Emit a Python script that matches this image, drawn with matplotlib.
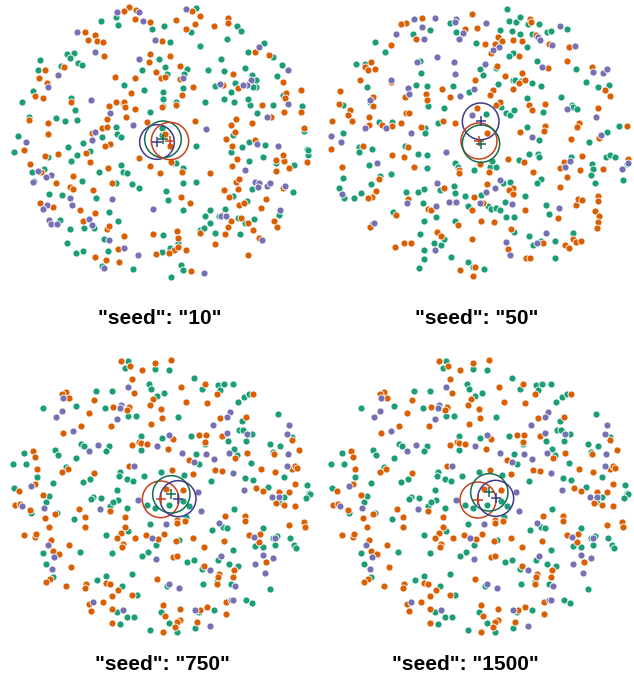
import matplotlib.pyplot as plt
from matplotlib.patches import Circle
from matplotlib import font_manager

# embedding coordinates per seed, one list of (x, y) per class
# (y grows downwards; 3 units = 1 px)
seed10_orange = [
    (388,22),(372,33),(408,30),(405,57),(450,67),(575,32),(601,47),(529,60),(585,73),(558,88),
    (642,78),(685,55),(683,70),(255,97),(284,104),(263,120),(290,123),(309,126),(487,123),(766,157),
    (807,164),(312,167),(192,200),(450,162),(510,167),(447,186),(469,217),(482,234),(494,232),(404,234),
    (344,232),(541,197),(540,238),(700,223),(714,263),(670,256),(848,246),(859,279),(855,295),(903,270),
    (902,336),(787,316),(580,260),(547,284),(527,314),(485,320),(393,278),(213,305),(144,368),(145,402),
    (106,289),(128,294),(116,234),(141,250),(136,210),(87,360),(328,318),(347,307),(371,306),(376,322),
    (406,328),(321,358),(378,352),(307,384),(322,382),(277,400),(331,433),(315,439),(441,367),(496,403),
    (510,438),(586,363),(694,376),(707,357),(704,395),(677,418),(696,438),(765,420),(813,350),(852,336),
    (913,383),(757,370),
    (73,450),(136,468),(174,463),(258,460),(270,485),(90,492),(123,516),(168,550),(220,528),(210,560),
    (220,567),(280,569),(336,548),(325,505),(418,473),(450,497),(480,518),(512,486),(545,516),(629,518),
    (542,592),(569,608),(119,610),(160,622),(239,629),(285,639),(250,664),(322,686),(328,679),(371,709),
    (285,772),(318,779),(358,785),(355,748),(458,703),(532,692),(535,714),(523,750),(507,759),(469,762),
    (534,740),(559,750),(574,814),(645,732),(599,698),(667,645),(694,664),(684,682),(676,702),(686,590),
    (672,571),(759,690),(744,669),(724,655),(783,624),(718,614),(732,610),(799,598),(715,568),(707,546),
    (718,537),(697,497),(711,476),(848,564),(821,664),(832,680),(777,714),(745,764),(829,479),(851,482),
    (829,513),(866,505),(921,485),(848,464),
]
seed10_green = [
    (588,25),(347,52),(355,75),(493,78),(456,86),(572,97),(712,78),(724,94),(303,63),(509,126),
    (601,139),(680,118),(791,130),(745,155),(818,170),(200,162),(222,160),(211,174),(121,181),(184,197),
    (233,188),(246,194),(477,178),(496,200),(425,210),(501,223),(372,255),(561,208),(552,222),(623,210),
    (664,178),(672,212),(736,205),(755,225),(767,240),(767,260),(758,260),(704,250),(645,258),(846,196),
    (832,228),(848,286),(905,318),(818,316),(750,316),(744,297),(702,305),(671,297),(693,276),(616,305),
    (550,263),(488,276),(488,297),(529,307),(488,318),(433,270),(212,293),(225,331),(232,360),(195,363),
    (169,353),(65,307),(100,273),(114,211),(86,352),(53,407),(369,310),(450,337),(347,381),(350,401),
    (364,412),(307,412),(250,428),(205,440),(487,385),(487,405),(587,437),(699,405),(726,440),(747,425),
    (796,434),(772,340),(913,394),(921,447),
    (43,455),(145,472),(230,465),(214,482),(270,453),(131,508),(97,516),(102,542),(247,542),(347,548),
    (298,516),(363,495),(368,516),(380,519),(396,553),(418,563),(518,490),(527,490),(548,503),(550,548),
    (588,545),(498,574),(505,601),(550,630),(146,582),(187,584),(288,595),(328,637),(355,664),(252,685),
    (282,685),(181,660),(209,688),(313,716),(201,730),(248,753),(228,758),(325,753),(307,798),(399,806),
    (488,706),(533,729),(510,743),(486,755),(542,795),(548,809),(512,830),(600,690),(613,685),(629,669),
    (616,648),(629,630),(656,648),(676,627),(644,698),(700,587),(720,701),(734,669),(715,653),(762,656),
    (742,604),(756,568),(694,455),(748,482),(837,646),(878,577),(788,471),(829,490),(883,495),(924,466),
    (924,450),
]
seed10_purple = [
    (418,36),(352,36),(428,62),(558,28),(230,97),(466,120),(778,141),(285,155),(418,176),(548,233),
    (754,240),(741,255),(729,256),(661,252),(865,210),(864,313),(274,300),(145,260),(174,226),(77,425),
    (331,340),(399,374),(286,397),(275,420),(618,388),(772,432),(834,437),(800,352),
    (113,513),(152,524),(137,531),(98,547),(211,595),(336,598),(215,615),(141,616),(128,627),(268,656),
    (275,675),(146,660),(152,672),(171,672),(328,719),(372,745),(313,803),(415,764),(458,627),(613,819),
    (663,648),(678,648),(735,511),(766,545),(776,548),(774,561),(802,558),(810,548),(856,558),(840,630),
    (786,721),
]

seed50_orange = [
    (455,42),(306,55),(258,68),(244,73),(287,116),(434,87),(472,85),(630,58),(633,66),(533,110),
    (547,122),(580,121),(606,123),(648,106),(494,131),(525,133),(687,131),(747,142),(214,134),(152,185),
    (136,201),(145,210),(166,208),(531,197),(512,160),(596,168),(683,205),(742,184),(815,200),(466,240),
    (556,227),(598,249),(615,240),(607,218),(520,270),(509,285),(579,268),(390,290),(366,266),(254,290),
    (319,282),(322,300),(214,245),(119,240),(60,274),(56,311),(90,331),(84,346),(95,362),(160,292),
    (160,318),(147,350),(147,375),(185,375),(215,377),(244,370),(258,338),(268,338),(304,380),(369,363),
    (406,370),(472,325),(540,306),(529,314),(628,316),(636,331),(675,313),(835,324),(854,271),(869,287),
    (778,369),(772,380),(676,377),(673,392),(601,396),(753,418),(838,414),(921,377),(33,447),(130,437),
    (263,440),(36,362),(500,400),
    (217,464),(252,472),(282,500),(66,500),(168,572),(157,590),(144,595),(177,536),(417,509),(418,520),
    (479,493),(507,516),(563,477),(612,485),(639,517),(731,486),(721,503),(786,468),(780,511),(742,532),
    (849,508),(924,477),(721,561),(263,598),(228,644),(371,564),(401,605),(461,590),(455,630),(324,627),
    (334,630),(414,675),(482,664),(522,667),(490,609),(502,551),(580,564),(567,570),(580,582),(616,630),
    (572,686),(713,654),(767,614),(773,596),(785,599),(835,588),(835,604),(824,632),(838,649),(835,667),
    (832,683),(760,717),(767,725),(783,722),(735,736),(748,744),(670,728),(563,746),(618,775),(630,775),
    (455,717),(352,695),(362,709),(252,728),(274,730),(225,741),(464,802),(420,809),(458,828),(150,682),
]
seed50_green = [
    (561,27),(331,90),(279,102),(391,70),(409,97),(567,63),(588,66),(601,52),(625,73),(657,73),
    (740,87),(540,90),(577,92),(601,103),(637,101),(680,97),(692,93),(469,128),(620,142),(166,126),
    (196,156),(109,192),(134,191),(301,182),(304,218),(480,208),(529,205),(490,226),(578,158),(567,168),
    (651,182),(767,208),(579,240),(586,240),(604,244),(637,248),(664,258),(534,253),(448,277),(398,258),
    (289,256),(320,259),(325,317),(140,262),(70,314),(150,305),(178,367),(215,365),(315,384),(316,398),
    (355,370),(371,325),(497,342),(542,322),(558,340),(571,345),(583,329),(620,293),(670,337),(723,292),
    (755,314),(759,320),(770,327),(797,245),(835,261),(866,256),(621,382),(658,421),(807,427),(862,397),
    (897,377),(68,398),(117,440),(157,447),(254,437),
    (117,456),(293,461),(322,464),(322,503),(147,495),(70,535),(57,564),(73,594),(103,593),(124,579),
    (152,553),(181,527),(214,522),(404,488),(413,502),(461,511),(510,501),(528,501),(517,482),(597,480),
    (626,461),(653,463),(658,471),(664,538),(651,548),(754,471),(815,491),(818,508),(812,524),(826,549),
    (857,472),(870,464),(886,472),(921,493),(908,540),(257,577),(293,577),(312,567),(310,608),(220,635),
    (361,570),(401,559),(405,578),(436,588),(445,617),(349,652),(311,664),(406,664),(483,586),(505,617),
    (513,628),(527,625),(541,630),(555,606),(549,550),(569,546),(616,588),(559,652),(583,652),(583,695),
    (678,614),(688,643),(759,699),(705,722),(705,775),(626,707),(638,736),(663,722),(301,701),(341,730),
    (364,736),(372,717),(313,749),(312,778),(298,804),(393,772),(445,785),(459,801),(493,806),(157,672),
]
seed50_purple = [
    (344,55),(282,58),(307,80),(311,116),(228,102),(409,58),(406,67),(428,100),(418,118),(499,68),
    (720,78),(653,111),(660,120),(537,140),(696,134),(765,137),(290,187),(352,171),(403,187),(404,221),
    (495,192),(518,151),(667,200),(818,215),(850,218),(862,206),(461,266),(420,287),(263,264),(268,282),
    (214,240),(151,300),(135,385),(197,384),(274,398),(456,346),(742,327),(829,350),(636,411),(843,405),
    (33,408),(62,425),
    (379,456),(172,488),(67,582),(750,482),(736,500),(924,488),(906,506),(260,608),(352,548),(387,607),
    (408,607),(347,617),(479,609),(499,575),(526,564),(541,540),(575,611),(717,625),(678,698),(651,728),
    (558,725),(570,765),(345,751),(163,668),
]

# seeds 750 and 1500 end up with the same embedding
seed750_orange = [
    (364,47),(391,64),(427,74),(464,55),(513,45),(397,103),(616,116),(652,146),(543,125),(402,145),
    (459,162),(199,140),(187,148),(208,158),(283,164),(340,187),(388,187),(381,196),(267,204),(451,180),
    (484,192),(486,219),(454,237),(559,171),(622,174),(760,146),(660,219),(738,216),(665,273),(876,286),
    (332,242),(242,243),(188,264),(395,300),(417,290),(424,295),(441,298),(505,311),(519,283),(598,269),
    (617,269),(615,291),(568,345),(704,338),(742,325),(823,327),(896,316),(98,319),(104,337),(203,372),
    (185,380),(110,372),(104,417),(56,437),(281,384),(386,363),(516,375),(578,388),(644,375),(665,377),
    (782,372),(825,382),(876,372),(886,362),(892,369),(884,416),(768,430),(789,438),(837,441),(868,441),
    (550,435),(128,450),(498,432),
    (44,480),(61,478),(89,495),(134,520),(165,507),(146,546),(72,570),(104,575),(109,567),(153,586),
    (159,617),(177,628),(207,599),(212,667),(150,702),(137,712),(199,722),(237,491),(256,517),(256,546),
    (329,498),(376,517),(375,546),(362,565),(351,580),(369,597),(367,605),(405,578),(437,570),(473,583),
    (492,567),(528,588),(519,636),(530,633),(578,578),(532,526),(554,528),(530,535),(674,512),(735,512),
    (736,528),(748,570),(779,567),(777,592),(868,540),(912,532),(915,545),(797,652),(611,607),(703,676),
    (612,664),(673,588),(658,686),(655,696),(652,718),(700,696),(470,702),(318,713),(330,718),(353,736),
    (258,717),(254,728),(335,754),(397,751),(310,770),(268,778),(272,799),(335,791),(337,833),(489,781),
    (494,812),(540,791),(540,825),(532,831),(524,847),(489,860),(599,794),(620,786),(590,831),(678,770),
    (679,807),(829,473),(852,481),(884,483),
]
seed750_green = [
    (385,47),(376,69),(464,72),(508,74),(581,98),(446,116),(654,119),(673,116),(700,116),(605,132),
    (659,135),(454,132),(491,143),(470,153),(289,137),(337,137),(128,190),(227,182),(315,190),(383,212),
    (408,212),(535,216),(713,172),(732,156),(746,148),(727,228),(717,256),(729,256),(755,266),(685,288),
    (738,288),(833,206),(876,276),(243,296),(251,302),(327,303),(318,319),(423,274),(424,316),(487,280),
    (573,274),(616,297),(587,327),(597,356),(711,329),(703,311),(740,325),(754,353),(811,298),(818,320),
    (840,303),(72,325),(40,358),(77,356),(166,314),(175,330),(227,338),(199,366),(112,396),(42,430),
    (158,414),(250,411),(270,401),(359,380),(356,393),(380,401),(400,409),(350,435),(432,393),(483,380),
    (551,390),(632,408),(852,396),(736,398),(759,406),(922,419),(803,427),(928,445),
    (148,453),(137,470),(94,504),(171,504),(128,623),(239,622),(139,658),(158,696),(223,522),(280,457),
    (302,460),(274,463),(331,482),(354,466),(338,471),(380,489),(383,557),(318,570),(337,625),(442,480),
    (451,536),(467,599),(443,620),(427,633),(538,586),(560,652),(582,644),(559,517),(701,491),(636,556),
    (670,546),(681,548),(790,548),(766,604),(788,607),(820,579),(830,573),(825,600),(871,580),(883,600),
    (887,609),(809,733),(698,615),(654,646),(686,657),(713,664),(605,672),(652,707),(694,717),(500,722),
    (608,718),(395,686),(318,694),(291,704),(367,722),(412,751),(351,800),(380,815),(403,817),(359,836),
    (483,802),(508,835),(532,860),(451,855),(641,796),(596,800),(585,849),(738,765),(755,775),(851,456),
    (837,470),(929,448),(918,458),(506,480),(548,468),(568,482),(466,490),
]
seed750_purple = [
    (383,125),(190,160),(364,180),(359,190),(350,222),(169,216),(187,198),(689,200),(682,215),(640,240),
    (740,266),(682,264),(866,240),(860,266),(218,258),(267,318),(294,300),(472,303),(508,271),(545,324),
    (619,327),(643,343),(581,351),(687,324),(865,327),(93,422),(402,362),(698,384),(860,364),(732,435),
    (594,440),
    (66,483),(131,488),(143,601),(161,635),(155,673),(301,493),(415,465),(499,538),(457,580),(467,643),
    (602,499),(658,535),(662,633),(630,676),(536,728),(508,717),(705,722),(790,629),(819,639),(766,657),
    (795,684),(762,575),(826,580),(817,457),(836,456),(280,770),(370,794),(586,794),(630,842),(692,765),
    (700,765),
]

# class centroids and spread radius: (x, y, r) in the same units
centers = {
    "10":   {"purple": (471, 426, 52), "green": (489, 418, 55), "orange": (510, 423, 56)},
    "50":   {"purple": (482, 364, 55), "orange": (477, 423, 54), "green": (483, 431, 56)},
    "750":  {"orange": (482, 463, 55), "green": (514, 448, 56), "purple": (534, 461, 54)},
    "1500": {"orange": (480, 465, 54), "green": (514, 442, 56), "purple": (533, 460, 54)},
}

point_col = {"green": "#1b9e77", "orange": "#d95f02", "purple": "#7570b3"}
ring_col = {"green": "#176b50", "orange": "#c8401c", "purple": "#3d3a8c"}

# narrow bold face for the captions if it is around
names = {f.name for f in font_manager.fontManager.ttflist}
cap_font = "Liberation Sans Narrow" if "Liberation Sans Narrow" in names else "Liberation Sans"
cap_size = 17 if cap_font == "Liberation Sans Narrow" else 15

W, H = 634, 683
fig = plt.figure(figsize=(W / 100, H / 100), dpi=100)

panels = [
    # seed, points, left px, top px, width px, x-shift (units)
    ("10", (seed10_green, seed10_orange, seed10_purple), 0, 0, 320, 0),
    ("50", (seed50_green, seed50_orange, seed50_purple), 320, 0, 314, 0),
    ("750", (seed750_green, seed750_orange, seed750_purple), 0, 345, 320, 0),
    ("1500", (seed750_green, seed750_orange, seed750_purple), 320, 345, 314, 6),
]
title_x = {"10": 160, "50": 477, "750": 162, "1500": 465}

for seed, pts, left, top, width, shift in panels:
    ax = fig.add_axes([left / W, 1 - (top + 290) / H, width / W, 290 / H])
    ax.set_xlim(shift, shift + width * 3)
    ax.set_ylim(870, 0)
    ax.axis("off")
    for name, p in zip(["green", "orange", "purple"], pts):
        xs = [q[0] for q in p]
        ys = [q[1] for q in p]
        ax.scatter(xs, ys, s=26, color=point_col[name], edgecolors="white",
                   linewidths=0.6, zorder=2)
    for name, (cx, cy, r) in centers[seed].items():
        ax.add_patch(Circle((cx, cy), r, fill=False, ec=ring_col[name], lw=1.1, zorder=3))
        ax.plot(cx, cy, marker="+", ms=7, mew=1.1, color=ring_col[name], zorder=4)
    fig.text(title_x[seed] / W, 1 - (top + 319) / H, f'"seed": "{seed}"',
             ha="center", va="center", fontsize=cap_size, fontweight="bold",
             family=cap_font)

fig.savefig("out.png", dpi=100)
